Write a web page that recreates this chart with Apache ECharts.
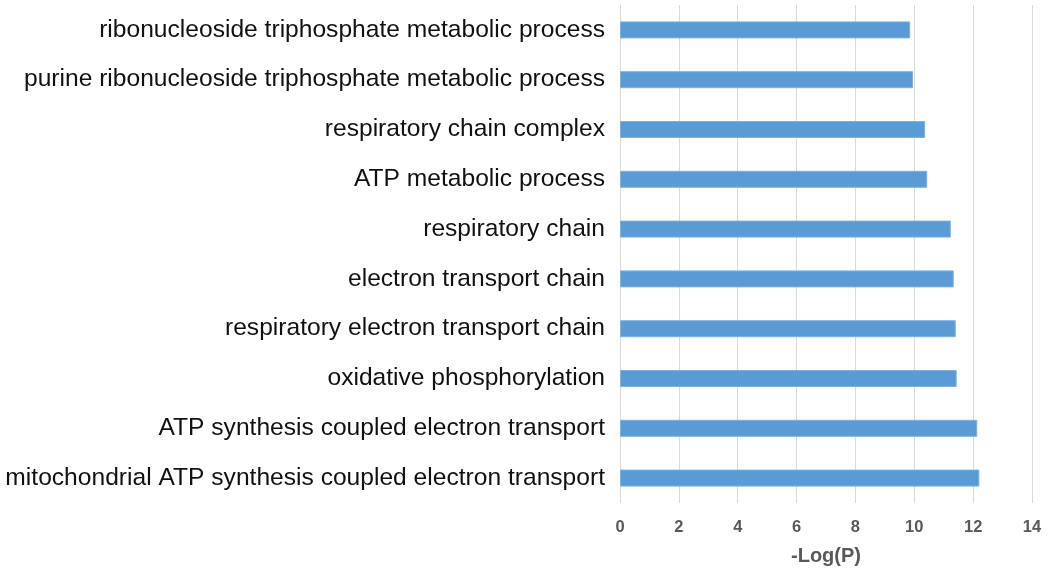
<!DOCTYPE html>
<html>
<head>
<meta charset="utf-8">
<script src="https://cdn.jsdelivr.net/npm/echarts@6/dist/echarts.min.js"></script>
<style>
html, body { margin: 0; padding: 0; background: #fff; }
#chart { width: 1050px; height: 574px; }
</style>
</head>
<body>
<div id="chart"></div>
<script>
// 类别 (从上到下)
var terms = [
    'ribonucleoside triphosphate metabolic process',
    'purine ribonucleoside triphosphate metabolic process',
    'respiratory chain complex',
    'ATP metabolic process',
    'respiratory chain',
    'electron transport chain',
    'respiratory electron transport chain',
    'oxidative phosphorylation',
    'ATP synthesis coupled electron transport',
    'mitochondrial ATP synthesis coupled electron transport'
]
// -Log(P)
var logP = [9.86, 9.96, 10.37, 10.44, 11.24, 11.34, 11.41, 11.44, 12.14, 12.21]
var xTicks = [0, 2, 4, 6, 8, 10, 12, 14]

var dom = document.getElementById('chart')
var option = {
    animation: false,
    grid: {
        left: 620,
        right: 18,
        top: 5,
        bottom: 71
    },
    xAxis: {
        type: 'value',
        min: xTicks[0],
        max: xTicks[xTicks.length - 1],
        interval: 2,
        name: '-Log(P)',
        nameLocation: 'middle',
        nameGap: 43,
        nameTextStyle: {
            fontFamily: 'Liberation Sans',
            fontSize: 20,
            fontWeight: 'bold',
            color: '#595959'
        },
        axisLine: {show: false},
        axisTick: {show: false},
        axisLabel: {
            margin: 16,
            fontFamily: 'Liberation Sans',
            fontSize: 16.5,
            fontWeight: 'bold',
            color: '#595959'
        },
        splitLine: {show: true, lineStyle: {color: '#d9d9d9', width: 1}}
    },
    yAxis: {
        type: 'category',
        inverse: true,
        data: terms,
        axisLine: {show: false},
        axisTick: {show: false},
        axisLabel: {
            margin: 15,
            fontFamily: 'Liberation Sans',
            fontSize: 24.6,
            color: '#111111'
        },
        splitLine: {show: false}
    },
    series: [{
        type: 'bar',
        data: logP,
        barWidth: 17,
        itemStyle: {
            color: '#5b9bd5',
            borderColor: '#7fb1e0',
            borderWidth: 1
        }
    }]
}
echarts.init(dom).setOption(option, true)
</script>
</body>
</html>
